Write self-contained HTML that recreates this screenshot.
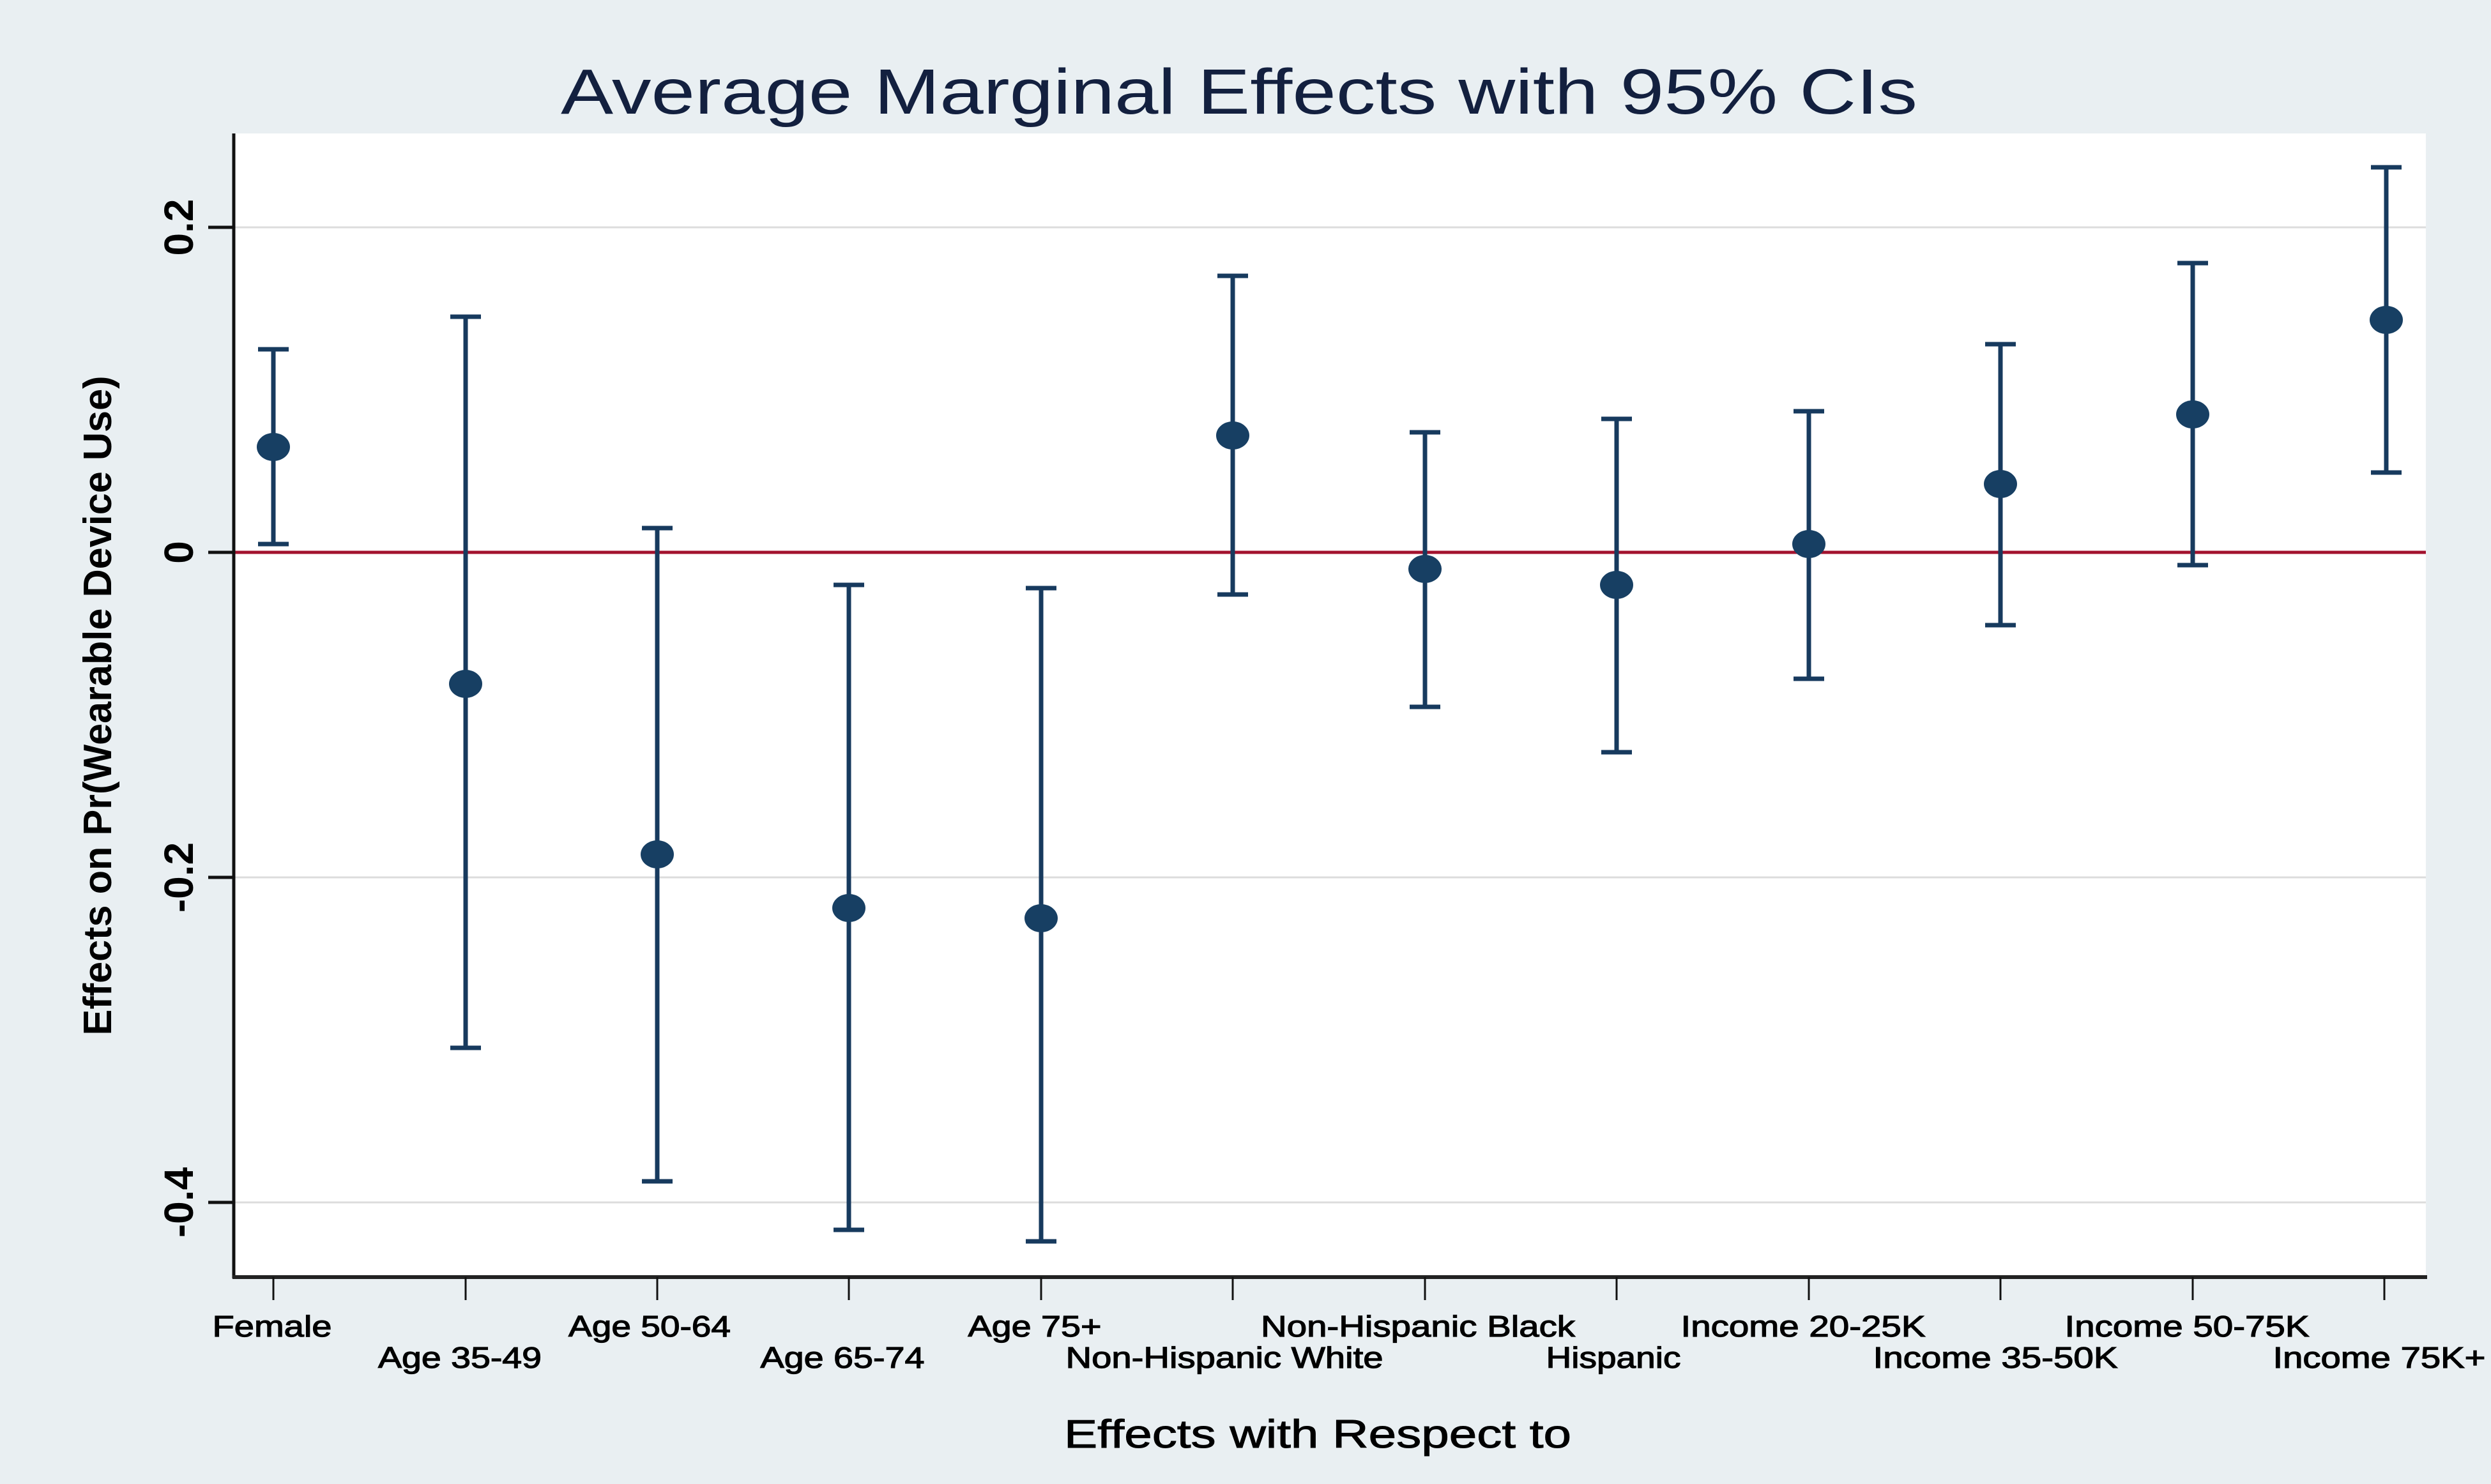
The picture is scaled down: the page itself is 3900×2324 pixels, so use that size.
<!DOCTYPE html>
<html><head><meta charset="utf-8"><style>
html,body{margin:0;padding:0;background:#e9eff2;}
svg{display:block;}
text{font-family:"Liberation Sans",Arial,sans-serif;fill:#000;}
</style></head><body>
<svg width="3900" height="2324" viewBox="0 0 3900 2324" xmlns="http://www.w3.org/2000/svg">
<rect x="0" y="0" width="3900" height="2324" fill="#e9eff2"/>
<rect x="366" y="209" width="3432" height="1791" fill="#ffffff"/>
<g stroke="#dcdcdc" stroke-width="3">
<line x1="366" y1="356" x2="3798" y2="356"/>
<line x1="366" y1="1374" x2="3798" y2="1374"/>
<line x1="366" y1="1883" x2="3798" y2="1883"/>
</g>
<line x1="366" y1="865" x2="3798" y2="865" stroke="#a3122e" stroke-width="5"/>
<line x1="366" y1="209" x2="366" y2="2002" stroke="#111" stroke-width="5"/>
<line x1="364" y1="2000" x2="3800" y2="2000" stroke="#222" stroke-width="6"/>
<g stroke="#111" stroke-width="5">
<line x1="326" y1="356" x2="366" y2="356"/>
<line x1="326" y1="865" x2="366" y2="865"/>
<line x1="326" y1="1374" x2="366" y2="1374"/>
<line x1="326" y1="1883" x2="366" y2="1883"/>
</g>
<g stroke="#111" stroke-width="3">
<line x1="428" y1="2000" x2="428" y2="2036"/>
<line x1="729" y1="2000" x2="729" y2="2036"/>
<line x1="1029" y1="2000" x2="1029" y2="2036"/>
<line x1="1329" y1="2000" x2="1329" y2="2036"/>
<line x1="1630" y1="2000" x2="1630" y2="2036"/>
<line x1="1930" y1="2000" x2="1930" y2="2036"/>
<line x1="2231" y1="2000" x2="2231" y2="2036"/>
<line x1="2531" y1="2000" x2="2531" y2="2036"/>
<line x1="2832" y1="2000" x2="2832" y2="2036"/>
<line x1="3132" y1="2000" x2="3132" y2="2036"/>
<line x1="3433" y1="2000" x2="3433" y2="2036"/>
<line x1="3733" y1="2000" x2="3733" y2="2036"/>
</g>
<g stroke="#173a5e" stroke-width="7" fill="none">
<path d="M428 547V852M404 547H452M404 852H452"/>
<path d="M729 496V1641M705 496H753M705 1641H753"/>
<path d="M1029 827V1850M1005 827H1053M1005 1850H1053"/>
<path d="M1329 916V1926M1305 916H1353M1305 1926H1353"/>
<path d="M1630 921V1944M1606 921H1654M1606 1944H1654"/>
<path d="M1930 432V931M1906 432H1954M1906 931H1954"/>
<path d="M2231 677V1107M2207 677H2255M2207 1107H2255"/>
<path d="M2531 656V1178M2507 656H2555M2507 1178H2555"/>
<path d="M2832 644V1063M2808 644H2856M2808 1063H2856"/>
<path d="M3132 539V979M3108 539H3156M3108 979H3156"/>
<path d="M3433 412V885M3409 412H3457M3409 885H3457"/>
<path d="M3736 262V740M3712 262H3760M3712 740H3760"/>
</g>
<g fill="#173f63">
<ellipse cx="428" cy="700" rx="26" ry="22"/>
<ellipse cx="729" cy="1071" rx="26" ry="22"/>
<ellipse cx="1029" cy="1338" rx="26" ry="22"/>
<ellipse cx="1329" cy="1422" rx="26" ry="22"/>
<ellipse cx="1630" cy="1438" rx="26" ry="22"/>
<ellipse cx="1930" cy="682" rx="26" ry="22"/>
<ellipse cx="2231" cy="891" rx="26" ry="22"/>
<ellipse cx="2531" cy="916" rx="26" ry="22"/>
<ellipse cx="2832" cy="852" rx="26" ry="22"/>
<ellipse cx="3132" cy="758" rx="26" ry="22"/>
<ellipse cx="3433" cy="649" rx="26" ry="22"/>
<ellipse cx="3736" cy="501" rx="26" ry="22"/>
</g>
<text x="1940" y="178" font-size="100" text-anchor="middle" textLength="2124" lengthAdjust="spacingAndGlyphs" style="fill:#13203f">Average Marginal Effects with 95% CIs</text>
<g font-size="64" font-weight="bold" text-anchor="middle">
<text transform="translate(302,356) rotate(-90)">0.2</text>
<text transform="translate(302,865) rotate(-90)">0</text>
<text transform="translate(302,1374) rotate(-90)">-0.2</text>
<text transform="translate(302,1883) rotate(-90)">-0.4</text>
</g>
<text transform="translate(174,1105) rotate(-90)" font-size="62" font-weight="bold" text-anchor="middle" textLength="1033" lengthAdjust="spacingAndGlyphs">Effects on Pr(Wearable Device Use)</text>
<g font-size="46" text-anchor="middle" stroke="#000" stroke-width="1.2">
<text x="426" y="2093" textLength="187" lengthAdjust="spacingAndGlyphs">Female</text>
<text x="720" y="2142" textLength="256" lengthAdjust="spacingAndGlyphs">Age 35-49</text>
<text x="1017" y="2093" textLength="254" lengthAdjust="spacingAndGlyphs">Age 50-64</text>
<text x="1319" y="2142" textLength="257" lengthAdjust="spacingAndGlyphs">Age 65-74</text>
<text x="1620" y="2093" textLength="209" lengthAdjust="spacingAndGlyphs">Age 75+</text>
<text x="1917" y="2142" textLength="497" lengthAdjust="spacingAndGlyphs">Non-Hispanic White</text>
<text x="2220" y="2093" textLength="492" lengthAdjust="spacingAndGlyphs">Non-Hispanic Black</text>
<text x="2526" y="2142" textLength="211" lengthAdjust="spacingAndGlyphs">Hispanic</text>
<text x="2823" y="2093" textLength="383" lengthAdjust="spacingAndGlyphs">Income 20-25K</text>
<text x="3124" y="2142" textLength="383" lengthAdjust="spacingAndGlyphs">Income 35-50K</text>
<text x="3424" y="2093" textLength="383" lengthAdjust="spacingAndGlyphs">Income 50-75K</text>
<text x="3725" y="2142" textLength="333" lengthAdjust="spacingAndGlyphs">Income 75K+</text>
</g>
<text x="2063" y="2267" font-size="62" text-anchor="middle" stroke="#000" stroke-width="1" textLength="794" lengthAdjust="spacingAndGlyphs">Effects with Respect to</text>
</svg>
</body></html>
